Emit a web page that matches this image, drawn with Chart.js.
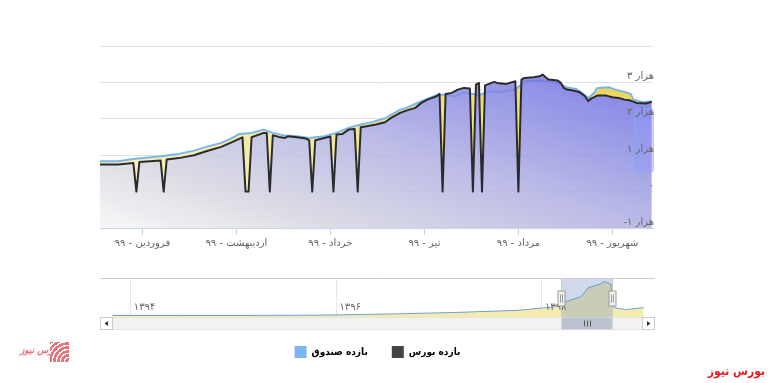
<!DOCTYPE html>
<html lang="fa">
<head>
<meta charset="utf-8">
<script src="https://cdn.jsdelivr.net/npm/chart.js@4.4.1/dist/chart.umd.min.js"></script>
<style>
  html, body { margin: 0; padding: 0; background: #fff; }
  body { width: 768px; height: 383px; position: relative; overflow: hidden; font-family: "DejaVu Sans", sans-serif; }
  #mainChart { position: absolute; left: 0; top: 0; }
  #navChart { position: absolute; left: 0; top: 262px; }
  .brand { position: absolute; right: 3px; top: 364px; color: #ec1c24; font: bold 12px "DejaVu Sans Condensed", "DejaVu Sans", sans-serif; direction: rtl; }
  .logo { position: absolute; left: 20px; top: 342px; height: 20px; }
  .logo-text { position: absolute; left: 0; top: 3px; color: #e8707c; font: italic bold 9px "DejaVu Sans", sans-serif; direction: rtl; white-space: nowrap; }
  .logo-mark { position: absolute; left: 30px; top: 0; width: 19px; height: 20px;
    background: repeating-radial-gradient(circle at 100% 100%, #fff 0 1.5px, #e9737e 1.5px 4px); }
</style>
</head>
<body>
<canvas id="mainChart" width="768" height="262"></canvas>
<canvas id="navChart" width="768" height="121"></canvas>
<div class="logo"><span class="logo-text">بورس نیوز</span><span class="logo-mark"></span></div>
<div class="brand">بورس نیوز</div>
<script>
// days counted from 1 Farvardin 1399
const monthStarts = [0, 31, 62, 93, 124, 155];
const monthLabels = ['فروردین - ۹۹', 'اردیبهشت - ۹۹', 'خرداد - ۹۹', 'تیر - ۹۹', 'مرداد - ۹۹', 'شهریور - ۹۹'];

const yTickValues = [-1000, 0, 1000, 2000, 3000, 4000];
const yTickLabels = ['-۱ هزار', '۰', '۱ هزار', '۲ هزار', '۳ هزار', ''];

const seriesNames = ['بازده صندوق', 'بازده بورس'];
const seriesColors = ['#7cb5ec', '#434348'];

const fundDays = [-14, -8, -3, 6, 12, 17, 21, 26, 29, 32, 36, 40, 43, 47, 51, 55, 60, 64, 68, 71,
  76, 80, 85, 87, 92, 97, 100, 103, 106, 109, 111, 113, 115, 118, 123, 126, 131, 135, 138, 140,
  143, 145, 147, 149, 150, 154, 156, 159, 161, 162, 165, 168];
const fundValues = [832, 832, 898, 970, 1036, 1126, 1228, 1338, 1448, 1585, 1613, 1703, 1613, 1538, 1519, 1475, 1519, 1613, 1750, 1821,
  1915, 2015, 2253, 2300, 2481, 2646, 2665, 2618, 2712, 2684, 2646, 2712, 2755, 2739, 2802, 3030, 3049, 3030, 2940, 2865,
  2821, 2712, 2574, 2712, 2849, 2865, 2802, 2739, 2684, 2527, 2453, 2481];

const bourseDays = [-14, -8, -3, -2, -1, 6, 7, 8, 12, 17, 21, 26, 29, 33, 34, 35, 36, 40, 41, 42,
  43, 45, 47, 48, 51, 54, 55, 56, 57, 60, 62, 63, 64, 66, 68, 70, 71, 72, 74, 77,
  80, 82, 85, 87, 90, 92, 94, 97, 98, 99, 100, 102, 104, 106, 108, 109, 110, 111, 112, 113,
  116, 117, 120, 123, 124, 125, 126, 129, 131, 132, 133, 134, 137, 138, 139, 140, 142, 144, 146, 147,
  148, 150, 153, 155, 157, 159, 161, 163, 166, 168];
const bourseValues = [742, 742, 788, 0, 816, 852, 0, 879, 920, 997, 1107, 1228, 1338, 1490, 0, 0, 1492, 1613, 1610, 0,
  1547, 1503, 1475, 1519, 1492, 1456, 1409, 0, 1409, 1475, 1511, 0, 1566, 1585, 1703, 1722, 0, 1766, 1794, 1841,
  1904, 2025, 2162, 2225, 2300, 2437, 2527, 2618, 2684, 0, 2684, 2712, 2802, 2849, 2830, 0, 2940, 2986, 0, 2920,
  3014, 2986, 2959, 3030, 0, 3077, 3124, 3140, 3168, 3214, 3140, 3077, 3049, 2986, 2849, 2802, 2775, 2739, 2618, 2490,
  2555, 2637, 2637, 2591, 2574, 2527, 2500, 2437, 2418, 2464];

// navigator (long history, x in years)
const navYears = [2015.82, 2016.5, 2017.16, 2017.9, 2018.57, 2019.2, 2019.76, 2020.12, 2020.27, 2020.38,
  2020.45, 2020.56, 2020.61, 2020.67, 2020.70, 2020.81, 2020.99];
const navValues = [4, 4, 4, 5, 8, 12, 17, 26, 43, 52, 75, 84, 91, 84, 24, 19, 24];
const navTickYears = [2016, 2018, 2020];
const navTickLabels = ['۱۳۹۴', '۱۳۹۶', '۱۳۹۸'];
const navRange = [2020.19, 2020.68];

Chart.defaults.font.family = '"DejaVu Sans", sans-serif';

// labels are laid out in a left-to-right base direction, like the original
const textDir = {
  id: 'textDir',
  beforeDraw(chart) { chart.ctx.direction = 'ltr'; },
};

// diagonal gradient: light at bottom-left, strong at top-right of the plot
function areaGradient(chart, stops) {
  const a = chart.chartArea;
  if (!a) return 'rgba(0,0,0,0)';
  const w = a.right - a.left, h = a.bottom - a.top;
  const s = 2 / (h / w + w / h);
  const g = chart.ctx.createLinearGradient(a.left, a.bottom, a.left + h * s, a.bottom - w * s);
  stops.forEach(([o, c]) => g.addColorStop(o, c));
  return g;
}

const bourseStops = [[0, 'rgba(246,246,247,0.82)'], [0.2, 'rgba(214,214,224,0.82)'],
  [0.5, 'rgba(172,172,226,0.82)'], [0.8, 'rgba(118,118,226,0.82)'], [1, 'rgba(96,96,220,0.82)']];
const fundStops = [[0, 'rgba(250,246,214,0.95)'], [0.5, 'rgba(242,230,142,0.95)'], [1, 'rgba(228,206,62,0.95)']];

const sidePanel = {
  id: 'sidePanel',
  afterDatasetsDraw(chart) {
    const { ctx, chartArea: a } = chart;
    ctx.save();
    ctx.fillStyle = 'rgba(150,158,248,0.45)';
    ctx.strokeStyle = 'rgba(124,181,236,0.55)';
    ctx.lineWidth = 1;
    ctx.beginPath();
    ctx.roundRect(a.right - 18.5, a.top + 62.5, 19, 64, 3);
    ctx.fill();
    ctx.stroke();
    ctx.restore();
  },
};

new Chart(document.getElementById('mainChart'), {
  type: 'line',
  data: {
    datasets: [
      {
        label: seriesNames[1],
        data: bourseDays.map((d, i) => ({ x: d, y: bourseValues[i] })),
        borderColor: '#2b2b2e',
        borderWidth: 2,
        borderJoinStyle: 'round',
        pointRadius: 0,
        fill: 'start',
        backgroundColor: (c) => areaGradient(c.chart, bourseStops),
      },
      {
        label: seriesNames[0],
        data: fundDays.map((d, i) => ({ x: d, y: fundValues[i] })),
        borderColor: seriesColors[0],
        borderWidth: 2,
        borderJoinStyle: 'round',
        pointRadius: 0,
        fill: { target: 0, below: 'rgba(0,0,0,0)' },
        backgroundColor: (c) => areaGradient(c.chart, fundStops),
      },
    ],
  },
  options: {
    responsive: false,
    animation: false,
    layout: { padding: { left: 100, right: 113, top: 46, bottom: 11 } },
    plugins: { legend: { display: false }, tooltip: { enabled: false } },
    scales: {
      x: {
        type: 'linear',
        min: -14,
        max: 168.4,
        afterBuildTicks: (scale) => { scale.ticks = monthStarts.map((v) => ({ value: v })); },
        ticks: {
          autoSkip: false,
          maxRotation: 0,
          padding: 2,
          color: '#666',
          font: { size: 10 },
          callback: (v) => monthLabels[monthStarts.indexOf(v)],
        },
        grid: { drawOnChartArea: false, drawTicks: true, tickLength: 7, color: '#ccd6eb' },
        border: { color: '#ccd6eb' },
      },
      y: {
        position: 'right',
        min: -1000,
        max: 4000,
        afterBuildTicks: (scale) => { scale.ticks = yTickValues.map((v) => ({ value: v })); },
        ticks: {
          mirror: true,
          padding: 1,
          labelOffset: -6,
          z: 1,
          color: '#666',
          font: { size: 10 },
          callback: (v) => yTickLabels[yTickValues.indexOf(v)],
        },
        grid: { color: '#e2e2e2', drawTicks: false },
        border: { display: false },
      },
    },
  },
  plugins: [textDir, sidePanel],
});

// selection mask, handles and scrollbar of the navigator
const navDecor = {
  id: 'navDecor',
  afterDraw(chart) {
    const { ctx, chartArea: a, scales: { x } } = chart;
    const x0 = Math.round(x.getPixelForValue(navRange[0])) + 0.5;
    const x1 = Math.round(x.getPixelForValue(navRange[1])) + 0.5;
    ctx.save();
    ctx.fillStyle = 'rgba(102,133,194,0.3)';
    ctx.fillRect(x0, a.top, x1 - x0, a.bottom - a.top);
    ctx.strokeStyle = '#cccccc';
    ctx.lineWidth = 1;
    ctx.beginPath();
    ctx.moveTo(a.left, a.top + 0.5); ctx.lineTo(a.right, a.top + 0.5);
    ctx.moveTo(x0, a.top); ctx.lineTo(x0, a.bottom);
    ctx.moveTo(x1, a.top); ctx.lineTo(x1, a.bottom);
    ctx.stroke();
    const hy = Math.round((a.top + a.bottom) / 2) + 0.5;
    [x0, x1].forEach((hx) => {
      ctx.fillStyle = '#f2f2f2';
      ctx.strokeStyle = '#999999';
      ctx.fillRect(hx - 3.5, hy - 7.5, 7, 15);
      ctx.strokeRect(hx - 3.5, hy - 7.5, 7, 15);
      ctx.beginPath();
      ctx.moveTo(hx - 1, hy - 4); ctx.lineTo(hx - 1, hy + 4);
      ctx.moveTo(hx + 1, hy - 4); ctx.lineTo(hx + 1, hy + 4);
      ctx.stroke();
    });
    // scrollbar
    const sy = a.bottom + 0.5, sh = 12;
    ctx.fillStyle = '#f2f2f2';
    ctx.strokeStyle = '#e6e6e6';
    ctx.fillRect(a.left, sy, a.right - a.left, sh);
    ctx.strokeRect(a.left + 0.5, sy, a.right - a.left - 1, sh);
    ctx.fillStyle = '#bcc3d0';
    ctx.fillRect(x0, sy, x1 - x0, sh);
    ctx.strokeStyle = '#555';
    ctx.beginPath();
    const cx = Math.round((x0 + x1) / 2) + 0.5;
    [-3, 0, 3].forEach((d) => { ctx.moveTo(cx + d, sy + 3); ctx.lineTo(cx + d, sy + sh - 3); });
    ctx.stroke();
    [[a.left + 0.5, 1], [a.right - 12.5, -1]].forEach(([bx, dir]) => {
      ctx.fillStyle = '#ffffff';
      ctx.strokeStyle = '#cccccc';
      ctx.fillRect(bx, sy, 12, sh);
      ctx.strokeRect(bx, sy, 12, sh);
      ctx.fillStyle = '#333333';
      ctx.beginPath();
      const mx = bx + 6, my = sy + sh / 2;
      ctx.moveTo(mx - 2 * dir, my);
      ctx.lineTo(mx + 1.5 * dir, my - 2.5);
      ctx.lineTo(mx + 1.5 * dir, my + 2.5);
      ctx.closePath();
      ctx.fill();
    });
    ctx.restore();
  },
};

new Chart(document.getElementById('navChart'), {
  type: 'line',
  data: {
    datasets: [
      {
        label: seriesNames[0],
        data: navYears.map((t, i) => ({ x: t, y: navValues[i] })),
        borderColor: '#6f9fd8',
        borderWidth: 1,
        pointRadius: 0,
        fill: 'start',
        backgroundColor: 'rgba(243,234,165,0.9)',
      },
    ],
  },
  options: {
    responsive: false,
    animation: false,
    layout: { padding: { left: 100, right: 113, top: 16, bottom: 17 } },
    plugins: {
      tooltip: { enabled: false },
      legend: {
        position: 'bottom',
        labels: {
          boxWidth: 12,
          boxHeight: 12,
          padding: 24,
          useBorderRadius: true,
          borderRadius: 2,
          color: '#333',
          font: { family: '"DejaVu Sans Condensed", "DejaVu Sans", sans-serif', size: 10, weight: 'bold' },
          generateLabels: () => seriesNames.map((t, i) => ({
            text: t, fillStyle: seriesColors[i], strokeStyle: seriesColors[i], lineWidth: 0, hidden: false, index: i,
          })),
        },
      },
    },
    scales: {
      x: {
        type: 'linear',
        min: 2015.7,
        max: 2021.1,
        afterBuildTicks: (scale) => { scale.ticks = navTickYears.map((v) => ({ value: v })); },
        ticks: {
          mirror: true,
          align: 'start',
          labelOffset: 3,
          padding: 2.5,
          z: 1,
          color: '#666',
          font: { size: 10, lineHeight: 1.5 },
          callback: (v) => navTickLabels[navTickYears.indexOf(v)],
        },
        grid: { color: '#e6e6e6', drawTicks: false },
        border: { display: false },
      },
      y: { display: false, min: 0, max: 100 },
    },
  },
  plugins: [textDir, navDecor],
});
</script>
</body>
</html>
